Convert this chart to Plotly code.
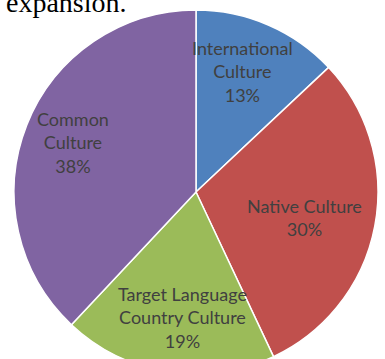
import plotly.graph_objects as go

# Share of cultural content by category
categories = ["International Culture", "Native Culture",
              "Target Language Country Culture", "Common Culture"]
shares = [13, 30, 19, 38]
# how each category name is broken over lines in its label
label_lines = [["International", "Culture"], ["Native Culture"],
               ["Target Language", "Country Culture"], ["Common", "Culture"]]

colors = ["#4F81BD", "#C0504D", "#9BBB59", "#8064A2"]

W, H = 385, 380
# pie centre and radius in pixels
cx, cy, r = 196, 192, 182

fig = go.Figure(go.Pie(
    labels=categories,
    values=shares,
    sort=False,
    direction="clockwise",
    rotation=0,
    textinfo="none",
    hoverinfo="label+percent",
    marker=dict(colors=colors, line=dict(color="white", width=1.5)),
    domain=dict(x=[(cx - r) / W, (cx + r) / W],
                y=[1 - (cy + r) / H, 1 - (cy - r) / H]),
    showlegend=False,
))

# label anchor points (pixels) for each slice
label_pos = [(242, 71), (304, 217), (182, 317), (73, 143)]
for lines, val, (px, py) in zip(label_lines, shares, label_pos):
    fig.add_annotation(
        x=px / W, y=1 - py / H, xref="paper", yref="paper",
        text="<br>".join(lines + [f"{val}%"]),
        showarrow=False, align="center",
        xanchor="center", yanchor="middle",
        font=dict(family="Lato, 'Open Sans', sans-serif", size=18, color="#404040"),
    )

# tail of the preceding sentence, cut off at the top edge
fig.add_annotation(
    x=4 / W, y=1 - 2 / H, xref="paper", yref="paper",
    text="expansion.", showarrow=False,
    xanchor="left", yanchor="middle",
    font=dict(family="'Liberation Serif', 'Times New Roman', serif", size=28, color="black"),
)

fig.update_layout(
    width=W, height=H,
    margin=dict(l=0, r=0, t=0, b=0),
    paper_bgcolor="white", plot_bgcolor="white",
)

fig.write_html("out.html", post_script="document.body.style.margin='0';document.body.style.overflow='hidden';")
